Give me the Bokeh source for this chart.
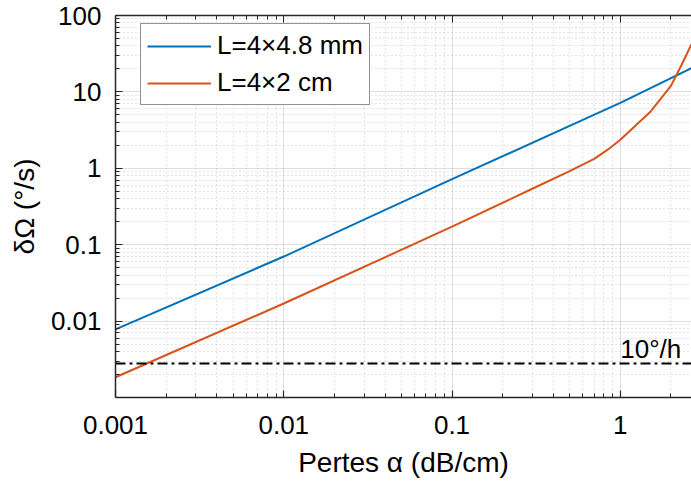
from bokeh.plotting import figure
from bokeh.models import (LogAxis, FixedTicker, CustomJSTickFormatter, Legend,
                          LegendItem, Range1d, Span)
from bokeh.embed import file_html
from bokeh.resources import INLINE
from bokeh.core.properties import value

# ---------------- data ----------------
alpha_small = [0.001, 0.01, 0.1, 1.0, 2.65]          # dB/cm
domega_small = [0.0078, 0.070, 0.72, 7.2, 20.5]      # deg/s, L = 4x4.8 mm

alpha_large = [0.001, 0.01, 0.1, 0.3, 0.5, 0.7, 0.85, 1.0, 1.5, 2.0, 2.3, 2.65]
domega_large = [0.00184, 0.0170, 0.172, 0.54, 0.92, 1.33, 1.78, 2.36, 5.4, 12.0, 22.0, 42.0]

label_small = "L=4×4.8 mm"
label_large = "L=4×2 cm"

threshold_deg_per_h = 10.0
threshold = threshold_deg_per_h / 3600.0             # deg/s
threshold_text = "10°/h"
threshold_text_x = 1.0
threshold_text_y = 0.0043

x_major = [0.001, 0.01, 0.1, 1.0, 10.0]
y_major = [0.01, 0.1, 1.0, 10.0, 100.0]
x_decades = [-3, -2, -1, 0]
y_decades = [-3, -2, -1, 0, 1]
x_lim = (0.001, 2.65)
y_lim = (0.001, 100.0)

# ---------------- style ----------------
FONT = "Liberation Sans"
AX = "#262626"
BLUE = "#0072BD"
ORANGE = "#D95319"

x_minor = [m * 10.0 ** k for k in x_decades for m in range(2, 10)]
y_minor = [m * 10.0 ** k for k in y_decades for m in range(2, 10)]
xticker = FixedTicker(ticks=x_major, minor_ticks=x_minor)
yticker = FixedTicker(ticks=y_major, minor_ticks=y_minor)
fmt = CustomJSTickFormatter(code="return tick.toString();")
blank_fmt = CustomJSTickFormatter(code="return '';")

p = figure(width=691, height=484, x_axis_type="log", y_axis_type="log",
           x_range=Range1d(*x_lim), y_range=Range1d(*y_lim),
           output_backend="svg", toolbar_location=None,
           min_border_left=115, min_border_right=0, min_border_top=15,
           min_border_bottom=87,
           x_axis_label="Pertes α (dB/cm)", y_axis_label="δΩ (°/s)")
p.outline_line_color = None
p.background_fill_color = "white"
p.border_fill_color = "white"

for ax, tk in ((p.xaxis[0], xticker), (p.yaxis[0], yticker)):
    ax.ticker = tk
    ax.formatter = fmt
    ax.axis_line_color = AX
    ax.axis_line_width = 1.5
    ax.major_tick_line_color = AX
    ax.minor_tick_line_color = AX
    ax.major_tick_line_width = 1.2
    ax.minor_tick_line_width = 1
    ax.major_tick_in = 7
    ax.major_tick_out = 0
    ax.minor_tick_in = 4
    ax.minor_tick_out = 0
    ax.major_label_text_font = FONT
    ax.major_label_text_font_size = "26px"
    ax.major_label_text_color = "black"
    ax.axis_label_text_font = FONT
    ax.axis_label_text_font_size = "28px"
    ax.axis_label_text_font_style = "normal"
    ax.axis_label_text_color = "black"

p.xaxis[0].major_label_standoff = 18
p.xaxis[0].axis_label_standoff = 10
p.yaxis[0].major_label_standoff = 14
p.yaxis[0].axis_label_standoff = 8

top = LogAxis(ticker=xticker, formatter=blank_fmt, major_label_text_font_size="2px",
              major_label_standoff=0, axis_line_color=AX, axis_line_width=1.5,
              major_tick_line_color=AX, minor_tick_line_color=AX,
              major_tick_in=7, major_tick_out=0, minor_tick_in=4, minor_tick_out=0)
p.add_layout(top, "above")

for g, tk in ((p.xgrid[0], xticker), (p.ygrid[0], yticker)):
    g.ticker = tk
    g.grid_line_color = AX
    g.grid_line_alpha = 0.15
    g.grid_line_width = 1
    g.minor_grid_line_color = AX
    g.minor_grid_line_alpha = 0.25
    g.minor_grid_line_dash = "1 3"
    g.minor_grid_line_width = 1

r1 = p.line(alpha_small, domega_small, line_color=BLUE, line_width=2)
r2 = p.line(alpha_large, domega_large, line_color=ORANGE, line_width=2)

p.add_layout(Span(location=threshold, dimension="width", line_color="black",
                  line_width=2, line_dash="10 4 3 4"))

p.text(x=[threshold_text_x], y=[threshold_text_y], text=[threshold_text],
       text_font=value(FONT), text_font_size=value("26px"),
       text_baseline="alphabetic", text_align="left", text_color="black")

legend = Legend(items=[LegendItem(label=label_small, renderers=[r1]),
                       LegendItem(label=label_large, renderers=[r2])],
                location=(25, 292))
legend.label_text_font = FONT
legend.label_text_font_size = "26px"
legend.label_text_color = "black"
legend.glyph_width = 64
legend.glyph_height = 28
legend.label_height = 28
legend.label_standoff = 6
legend.spacing = 6
legend.padding = 6
legend.margin = 0
legend.border_line_color = AX
legend.border_line_width = 1.2
legend.background_fill_color = "white"
legend.background_fill_alpha = 1
p.add_layout(legend)

open("out.html", "w").write(file_html(p, INLINE))
